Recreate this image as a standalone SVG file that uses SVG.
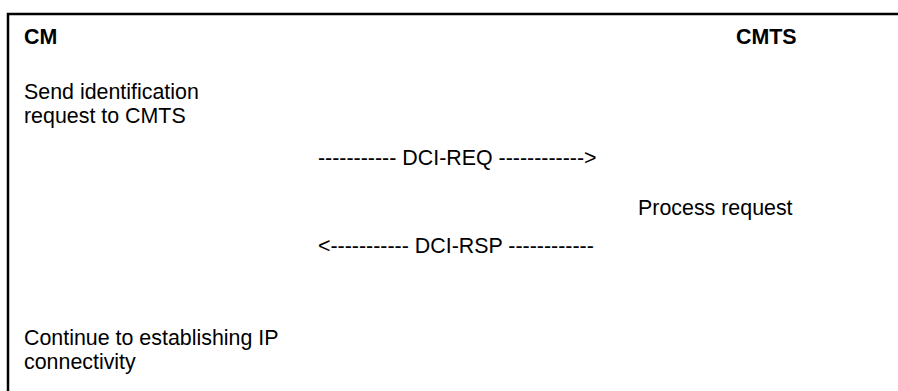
<svg xmlns="http://www.w3.org/2000/svg" width="898" height="391" viewBox="0 0 898 391">
<style>
text{font-family:"Liberation Sans",Arial,sans-serif;font-size:21.4px;fill:#000}
.b{font-weight:bold}
.frame{stroke:#000;stroke-width:2.5;fill:none}
</style>
<rect width="898" height="391" fill="#fff"/>
<g id="frame"><path class="frame" d="M8,391 V14 H898"/></g>
<g id="cm"><text class="b" x="24" y="44">CM</text></g>
<g id="cmts"><text class="b" x="736" y="44">CMTS</text></g>
<g id="send"><text x="24" y="99">Send identification</text><text x="24" y="123">request to CMTS</text></g>
<g id="process"><text x="638" y="215">Process request</text></g>
<g id="continue"><text x="24" y="345">Continue to establishing IP</text><text x="24" y="369">connectivity</text></g>
<g id="connectors">
<text x="318" y="165">----------- DCI-REQ ------------&gt;</text>
<text x="318" y="253">&lt;----------- DCI-RSP ------------</text>
</g>
</svg>
